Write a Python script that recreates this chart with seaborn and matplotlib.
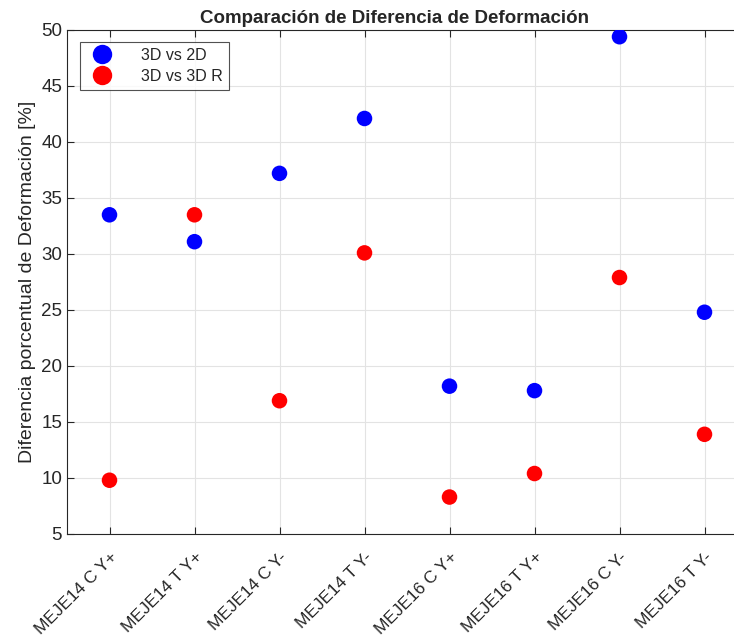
import pandas as pd
import seaborn as sns
import matplotlib.pyplot as plt

# Data
casos = ['MEJE14 C Y+', 'MEJE14 T Y+', 'MEJE14 C Y-', 'MEJE14 T Y-',
         'MEJE16 C Y+', 'MEJE16 T Y+', 'MEJE16 C Y-', 'MEJE16 T Y-']
dif_3d_2d = [33.5, 31.1, 37.2, 42.1, 18.2, 17.8, 49.4, 24.8]
dif_3d_3dr = [9.8, 33.5, 16.9, 30.1, 8.3, 10.4, 27.9, 13.9]
series = ['3D vs 2D', '3D vs 3D R']
colores = ['#0000ff', '#ff0000']

df = pd.DataFrame({
    'pos': list(range(1, 9)) * 2,
    'valor': dif_3d_2d + dif_3d_3dr,
    'serie': [series[0]] * 8 + [series[1]] * 8,
})

sns.set_style('whitegrid')
plt.rcParams['font.family'] = ['Liberation Sans', 'DejaVu Sans']

fig = plt.figure(figsize=(7.34, 6.37), dpi=100)
ax = fig.add_axes([67 / 734, 103 / 637, 680 / 734, 504 / 637])

sns.scatterplot(data=df, x='pos', y='valor', hue='serie', palette=colores,
                s=125, edgecolor='none', ax=ax, zorder=3)

ax.set_xlim(0.5, 8.5)
ax.set_ylim(5, 50)
ax.set_xticks(range(1, 9))
ax.set_xticklabels(casos, rotation=45, ha='right', va='top', rotation_mode='anchor',
                   fontsize=12.5, color='#262626')
ax.tick_params(axis='x', pad=11)
ax.set_yticks(range(5, 51, 5))
ax.tick_params(axis='y', labelsize=13.5, labelcolor='#262626')
ax.tick_params(direction='in', length=5, color='#262626', top=True, right=True, bottom=True, left=True)
ax.grid(True, color='#e3e3e3', linewidth=0.8)
for s in ax.spines.values():
    s.set_color('#262626')
    s.set_linewidth(0.8)

ax.set_xlabel('')
ax.set_ylabel('Diferencia porcentual de Deformación [%]', fontsize=14, color='#262626')
ax.set_title('Comparación de Diferencia de Deformación', fontsize=13.5, fontweight='bold', x=0.482, pad=5)

leg = ax.legend(loc='upper left', bbox_to_anchor=(13 / 680, 1 - 12 / 504), borderaxespad=0,
                fontsize=11.5, frameon=True, fancybox=False, edgecolor='#262626',
                markerscale=1.25, handletextpad=1.5, borderpad=0.35, labelspacing=0.4)
leg.get_frame().set_linewidth(0.8)

fig.savefig('out.png', dpi=100)
